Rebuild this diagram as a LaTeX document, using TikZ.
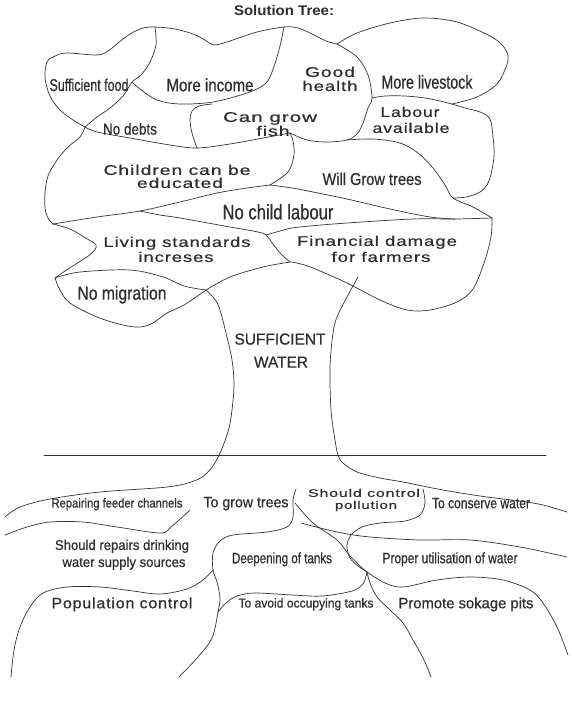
\documentclass[tikz,border=0pt]{standalone}
\usepackage{fontspec}
\usepackage{graphicx}
\newfontfamily\lsf[FakeBold=0.6]{Liberation Sans}
\newfontfamily\lsw[LetterSpace=5,FakeBold=0.6]{Liberation Sans}
\newfontfamily\lsb{Liberation Sans}
\newcommand\Tn[3]{\resizebox{#2pt}{\height}{\fontsize{#1pt}{#1pt}\selectfont\lsf #3}}
\newcommand\Tw[3]{\resizebox{#2pt}{\height}{\fontsize{#1pt}{#1pt}\selectfont\lsw #3}}
\newcommand\Tb[3]{\resizebox{#2pt}{\height}{\fontsize{#1pt}{#1pt}\selectfont\lsb\bfseries #3}}
\begin{document}
\begin{tikzpicture}[x=1pt,y=-1pt,
  line/.style={draw=black!80, line width=0.7pt, line join=round, line cap=round},
  txt/.style={inner sep=0pt, anchor=base, text=black!82},
  sm/.style={smooth, tension=0.55}]
\useasboundingbox (0,0) rectangle (572,721);
\fill[white] (0,0) rectangle (572,721);
% junction coordinates
\coordinate (J1) at (85,127);
\coordinate (P1) at (155,27);
\coordinate (P2) at (132,82);
\coordinate (P3) at (284,27);
\coordinate (P4) at (337,44);
\coordinate (P5) at (290,133);
\coordinate (P6) at (372,98);
\coordinate (P7) at (347,140);
\coordinate (P8) at (452,104);
\coordinate (P9) at (453,198);
\coordinate (P10) at (492,218);
\coordinate (P11) at (270,185);
\coordinate (P12) at (53,224);
\coordinate (P13) at (140,211);
\coordinate (P14) at (290,262);
\coordinate (P15) at (266,235);
\coordinate (P16) at (55,278);
\coordinate (T) at (206,290);
\coordinate (B0) at (296,489);
\coordinate (Q1) at (213,570);
\coordinate (Q2) at (218,612);
\coordinate (J) at (367,572);
\coordinate (G1) at (44,455.5);
\coordinate (G2) at (546,455.5);
% canopy
\draw[line] plot[sm] coordinates {(J1) (73,120) (60,110) (50,96) (45,78) (47,62) (55,56) (67,53) (97,55) (108,51) (118,43) (130,34) (143,28) (P1) (175,29) (193,34) (205,40) (214,45) (230,41) (257,32) (P3) (298,28) (312,34) (326,41) (P4)};
\draw[line] plot[sm] coordinates {(P1) (156,45) (150,62) (141,75) (P2) (123,96) (110,108) (97,117) (J1)};
\draw[line] plot[sm] coordinates {(P2) (140,89) (157,100) (180,104) (213,102) (247,93) (265,84) (272,72) (279,50) (P3)};
\draw[line] plot[sm] coordinates {(P4) (357,57) (368,75) (P6) (368,108) (363,123) (357,134) (P7) (327,142) (307,140) (P5)};
\draw[line] plot[sm] coordinates {(P4) (357,33) (390,23) (423,18) (457,22) (490,36) (503,46) (508,56) (506,67) (497,84) (477,97) (P8)};
\draw[line] plot[sm] coordinates {(P6) (385,96) (405,96) (425,98) (440,101) (P8)};
\draw[line] plot[sm] coordinates {(P8) (465,108) (480,112) (490,119) (493,137) (494,157) (489,181) (480,192) (466,197) (P9)};
\draw[line] plot[sm] coordinates {(P7) (373,139) (400,143) (418,153) (433,168) (445,185) (P9) (473,207) (P10)};
\draw[line] plot[sm] coordinates {(J1) (97,132) (130,138) (170,145) (197,148) (230,144) (263,138) (P5)};
\draw[line] plot[sm] coordinates {(212,104) (199,106) (192,111) (190,120) (192,133) (197,148)};
\draw[line] plot[sm] coordinates {(P5) (293,141) (294,155) (288,172) (P11)};
\draw[line] plot[sm] coordinates {(J1) (80,137) (68,147) (57,160) (48,176) (45,193) (45,208) (48,218) (P12)};
\draw[line] plot[sm] coordinates {(P12) (97,217) (P13) (180,202) (217,193) (247,188) (P11)};
\draw[line] plot[sm] coordinates {(P11) (292,188) (313,192) (347,199) (390,209) (430,217) (455,219)};
\draw[line] plot[sm] coordinates {(P15) (280,231) (292,228) (310,226) (347,223) (413,219) (455,219) (P10)};
\draw[line] plot[sm] coordinates {(P13) (160,215) (180,218) (230,227) (258,232) (P15) (273,244) (281,254) (P14)};
\draw[line] plot[sm] coordinates {(P10) (491,237) (484,263) (473,289) (457,302) (430,310) (407,310) (380,300) (347,283) (313,268) (297,263) (P14)};
\draw[line] plot[sm] coordinates {(P12) (70,229) (84,237) (96,245) (92,253) (79,262) (65,271) (P16)};
\draw[line] plot[sm] coordinates {(P16) (80,272) (130,270) (163,277) (184,286) (T)};
\draw[line] plot[sm] coordinates {(P16) (60,290) (70,303) (97,317) (123,325) (140,327) (153,323) (167,313) (184,305) (T)};
\draw[line] plot[sm] coordinates {(P14) (263,267) (230,277) (T)};
% trunk
\draw[line] plot[sm] coordinates {(T) (213,297) (219,307) (226,333) (232,360) (234,385) (232,410) (229,428) (223,446) (216,461) (207,473) (194,481) (167,487) (100,492) (50,499) (20,507) (5,517)};
\draw[line] plot[sm] coordinates {(358,277) (347,297) (337,317) (333,333) (330,367) (331,410) (335,440) (338,455) (343,463) (357,472) (380,478) (403,482) (443,490) (487,497) (520,501) (543,505) (567,512)};
\draw[line] (G1) -- (G2);
% roots
\draw[line] plot[sm] coordinates {(5,535) (27,527) (50,522) (83,522) (117,527) (160,533) (171,527) (190,510)};
\draw[line] plot[sm] coordinates {(B0) (293,500) (293,517) (287,527) (267,532) (233,535) (220,541) (213,553) (Q1) (217,582) (220,598) (Q2) (212,638) (197,658) (179,677)};
\draw[line] plot[sm] coordinates {(Q1) (203,580) (187,589) (160,594) (133,591) (100,587) (67,587) (43,593) (30,607) (20,627) (14,650) (11,677)};
\draw[line] plot[sm] coordinates {(Q2) (226,603) (237,596) (255,593) (292,595) (322,596) (352,591) (363,584) (J)};
\draw[line] plot[sm] coordinates {(295,503) (313,523) (337,540) (350,556) (360,566) (J)};
\draw[line] plot[sm] coordinates {(301,523) (337,532) (370,537) (420,540) (470,540) (520,547) (567,557)};
\draw[line] plot[sm] coordinates {(423,489) (425,503) (420,515) (405,521) (380,523) (362,527) (351,535) (347,546) (350,558) (358,566) (J)};
\draw[line] plot[sm] coordinates {(J) (370,583) (377,597) (390,610) (403,623) (413,640) (424,660) (431,677)};
\draw[line] plot[sm] coordinates {(J) (385,583) (403,587) (437,580) (470,577) (503,580) (530,590) (543,603) (557,627) (568,655)};
% texts
\node[txt] (title) at (284,11+0.35*14) {\Tb{14}{100}{Solution Tree:}};
\node[txt] (sf) at (89,85+0.35*17) {\Tn{17}{79}{Sufficient food}};
\node[txt] (mi) at (210,85+0.35*18) {\Tn{18}{87}{More income}};
\node[txt] (gh1) at (330,72+0.35*14) {\Tw{14}{50}{Good}};
\node[txt] (gh2) at (330,86+0.35*14) {\Tw{14}{55}{health}};
\node[txt] (ml) at (427,82+0.35*19) {\Tn{19}{91}{More livestock}};
\node[txt] (la1) at (410,112+0.35*14) {\Tw{14}{59}{Labour}};
\node[txt] (la2) at (411,128+0.35*14) {\Tw{14}{77}{available}};
\node[txt] (nd) at (130,129+0.35*16) {\Tn{16}{54}{No debts}};
\node[txt] (cg1) at (270,117+0.35*14) {\Tw{14}{94}{Can grow}};
\node[txt] (cg2) at (273,131+0.35*14) {\Tw{14}{33}{fish}};
\node[txt] (ch1) at (177,170+0.35*14) {\Tw{14}{147}{Children can be}};
\node[txt] (ch2) at (180,183+0.35*14) {\Tw{14}{86}{educated}};
\node[txt] (wg) at (372,179+0.35*17) {\Tn{17}{99}{Will Grow trees}};
\node[txt] (nc) at (278,212+0.35*21) {\Tn{21}{111}{No child labour}};
\node[txt] (ls1) at (177,242+0.35*14) {\Tw{14}{147}{Living standards}};
\node[txt] (ls2) at (176,257+0.35*14) {\Tw{14}{75}{increses}};
\node[txt] (fd1) at (377,241+0.35*14) {\Tw{14}{160}{Financial damage}};
\node[txt] (fd2) at (381,257+0.35*14) {\Tw{14}{99}{for farmers}};
\node[txt] (nm) at (122,293+0.35*19) {\Tn{19}{89}{No migration}};
\node[txt] (sw1) at (280,339+0.35*16) {\Tn{16}{91}{SUFFICIENT}};
\node[txt] (sw2) at (281,362+0.35*16) {\Tn{16}{54}{WATER}};
\node[txt] (rf) at (117,503+0.35*13) {\Tn{13}{131}{Repairing feeder channels}};
\node[txt] (gt) at (246,502+0.35*15) {\Tn{15}{85}{To grow trees}};
\node[txt] (sc1) at (364,493+0.35*11) {\Tw{11}{112}{Should control}};
\node[txt] (sc2) at (366,505+0.35*11) {\Tw{11}{62}{pollution}};
\node[txt] (cw) at (481,503+0.35*15) {\Tn{15}{98}{To conserve water}};
\node[txt] (sr1) at (122,545+0.35*14) {\Tn{14}{134}{Should repairs drinking}};
\node[txt] (sr2) at (124,562+0.35*14) {\Tn{14}{123}{water supply sources}};
\node[txt] (dt) at (282,558+0.35*15) {\Tn{15}{100}{Deepening of tanks}};
\node[txt] (pu) at (450,558+0.35*15) {\Tn{15}{135}{Proper utilisation of water}};
\node[txt] (pc) at (122,603+0.35*15) {\Tw{15}{141}{Population control}};
\node[txt] (ta) at (306,603+0.35*13) {\Tn{13}{135}{To avoid occupying tanks}};
\node[txt] (ps) at (466,603+0.35*15) {\Tn{15}{135}{Promote sokage pits}};
\end{tikzpicture}
\end{document}
